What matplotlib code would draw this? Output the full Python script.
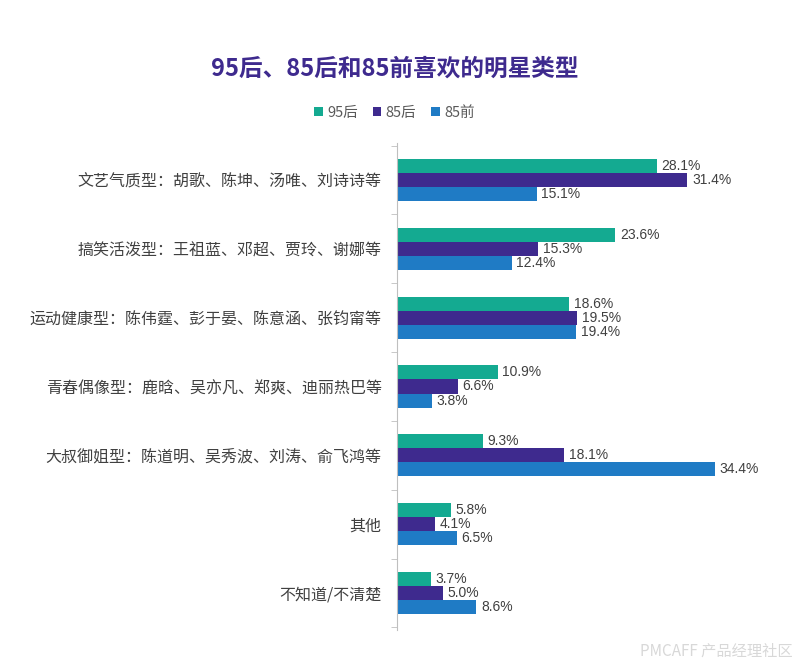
import matplotlib.pyplot as plt
import numpy as np

plt.rcParams['font.family'] = ['Noto Sans CJK SC', 'DejaVu Sans']

categories = ['文艺气质型：胡歌、陈坤、汤唯、刘诗诗等',
              '搞笑活泼型：王祖蓝、邓超、贾玲、谢娜等',
              '运动健康型：陈伟霆、彭于晏、陈意涵、张钧甯等',
              '青春偶像型：鹿晗、吴亦凡、郑爽、迪丽热巴等',
              '大叔御姐型：陈道明、吴秀波、刘涛、俞飞鸿等',
              '其他',
              '不知道/不清楚']
series_names = ['95后', '85后', '85前']
after95 = [28.1, 23.6, 18.6, 10.9, 9.3, 5.8, 3.7]
after85 = [31.4, 15.3, 19.5, 6.6, 18.1, 4.1, 5.0]
before85 = [15.1, 12.4, 19.4, 3.8, 34.4, 6.5, 8.6]

colors = ['#14AA91', '#3E2A8E', '#1F7BC5']

fig = plt.figure(figsize=(8.05, 6.71), dpi=100)
ax = fig.add_axes([0.493, 0.061, 0.477, 0.726])

y = np.arange(len(categories))
h = 0.205
for i, (vals, c, name) in enumerate(zip([after95, after85, before85], colors, series_names)):
    pos = y + (i - 1) * h
    ax.barh(pos, vals, height=h, color=c, label=name)
    for p, v in zip(pos, vals):
        ax.text(v + 0.5, p, f'{v:.1f}%', va='center', ha='left',
                fontsize=10, color='#404040', family=['Liberation Sans', 'DejaVu Sans'])

ax.set_ylim(len(categories) - 0.46, -0.54)
ax.set_xlim(0, 41.5)
ax.set_yticks(y)
ax.set_yticklabels(categories, fontsize=11.5, color='#404040')
ax.set_yticks(np.arange(len(categories) + 1) - 0.5, minor=True)
ax.tick_params(axis='y', which='major', length=0, pad=11)
ax.tick_params(axis='y', which='minor', length=4, color='#bfbfbf')
ax.set_xticks([])
for s in ['top', 'right', 'bottom']:
    ax.spines[s].set_visible(False)
ax.spines['left'].set_color('#bfbfbf')

fig.text(0.985, 0.03, 'PMCAFF 产品经理社区', fontsize=11, color='#d8d8d8',
         ha='right', va='center')

fig.text(0.49, 0.898, '95后、85后和85前喜欢的明星类型', fontsize=17, fontweight='bold',
         color='#3E2A8E', ha='center', va='center')

fig.legend(loc='center', bbox_to_anchor=(0.49, 0.832), ncol=3, frameon=False,
           fontsize=10.5, handlelength=0.6, handleheight=0.6, handletextpad=0.3,
           columnspacing=1.0, labelcolor='#595959')

fig.savefig('out.png', dpi=100)
